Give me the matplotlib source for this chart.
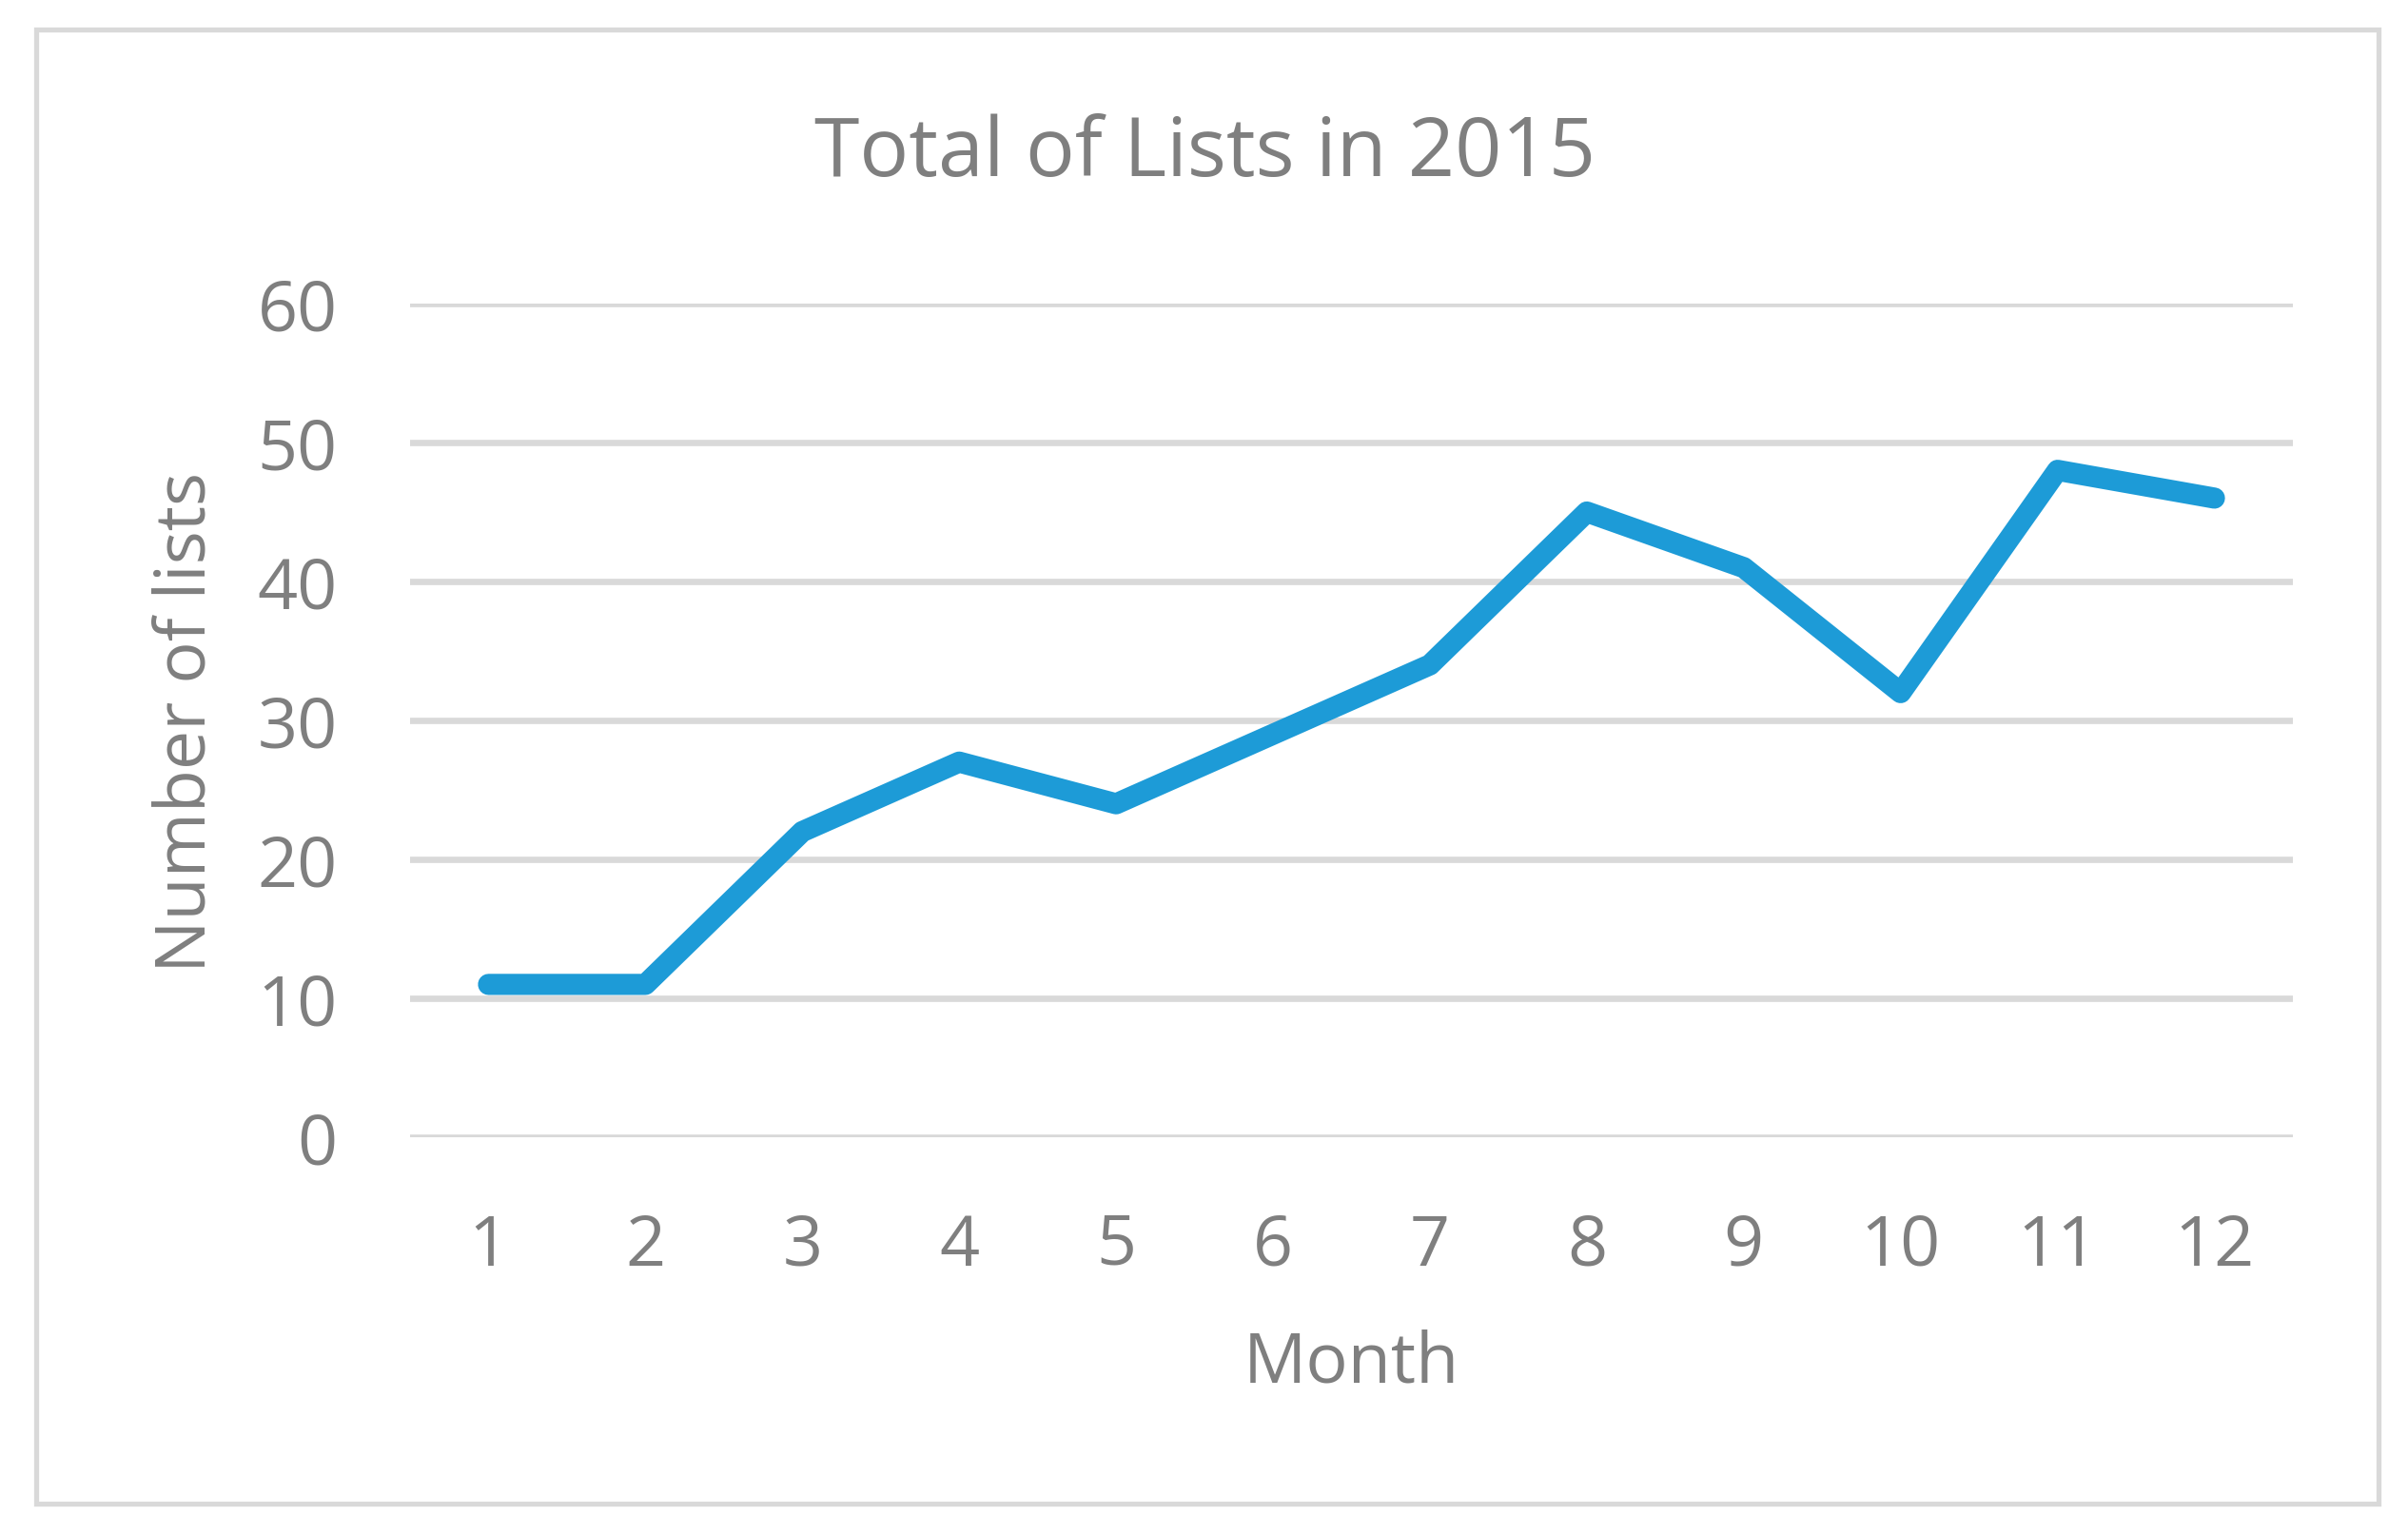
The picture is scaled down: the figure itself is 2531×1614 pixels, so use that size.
import matplotlib

matplotlib.use("Agg")
import matplotlib.pyplot as plt
from matplotlib.patches import Rectangle

months = [1, 2, 3, 4, 5, 6, 7, 8, 9, 10, 11, 12]
num_lists = [11, 11, 22, 27, 24, 29, 34, 45, 41, 32, 48, 46]
y_ticks = [0, 10, 20, 30, 40, 50, 60]

W, H = 2531, 1615
TEXT = "#7f7f7f"
GRID = "#d9d9d9"
LINE = "#1d9bd7"

plt.rcParams["font.family"] = ["Open Sans", "DejaVu Sans"]

fig = plt.figure(figsize=(W / 100, H / 100), dpi=100)
ax = fig.add_axes([431 / W, 1 - 1196 / H, (2410 - 431) / W, (1196 - 320) / H])

ax.plot(months, num_lists, color=LINE, lw=16, solid_capstyle="round",
        solid_joinstyle="round", zorder=3)

ax.set_xlim(0.5, 12.5)
ax.set_ylim(0, 60)
ax.set_xticks(months)
ax.set_yticks(y_ticks)
ax.tick_params(length=0, labelsize=53, labelcolor=TEXT)
ax.tick_params(axis="x", pad=56)
ax.tick_params(axis="y", pad=55)
ax.grid(axis="y", color=GRID, lw=4.8)
ax.set_axisbelow(True)
for s in ax.spines.values():
    s.set_visible(False)

fig.text(1267 / W, 1 - 163 / H, "Total of Lists in 2015", ha="center",
         va="center", fontsize=62, color=TEXT)
fig.text(1420 / W, 1 - 1434 / H, "Month", ha="center", va="center",
         fontsize=53, color=TEXT)
fig.text(197 / W, 1 - 759 / H, "Number of lists", ha="center", va="center",
         rotation=90, fontsize=53, color=TEXT)

fig.patches.append(Rectangle((38 / W, 1 - 1581 / H), (2500 - 38) / W,
                             (1581 - 32) / H, transform=fig.transFigure,
                             fill=False, edgecolor=GRID, lw=3.8))

fig.savefig("out.png", dpi=100)
